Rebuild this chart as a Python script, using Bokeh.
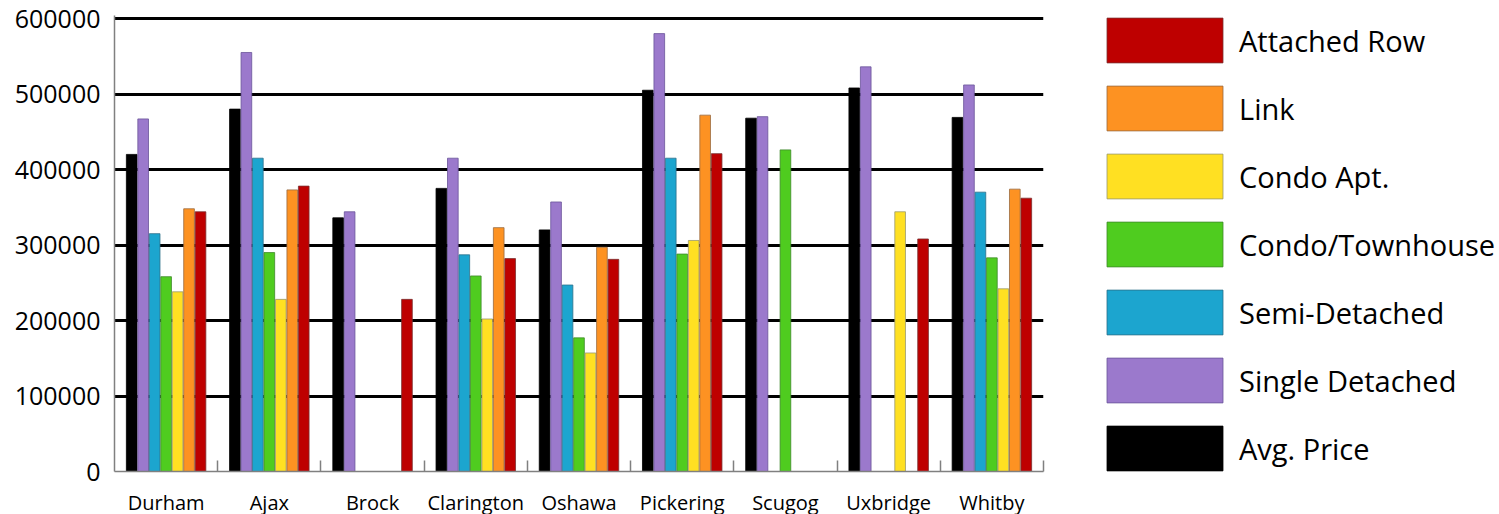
from bokeh.plotting import figure
from bokeh.models import (Legend, LegendItem, FixedTicker, ColumnDataSource,
                          Range1d, NumeralTickFormatter)
from bokeh.embed import file_html
from bokeh.resources import INLINE

regions = ["Durham", "Ajax", "Brock", "Clarington", "Oshawa",
           "Pickering", "Scugog", "Uxbridge", "Whitby"]

avg_price       = [420000, 480000, 336000, 375000, 320000, 505000, 468000, 508000, 469000]
single_detached = [467000, 555000, 344000, 415000, 357000, 580000, 470000, 536000, 512000]
semi_detached   = [315000, 415000, None,   287000, 247000, 415000, None,   None,   370000]
condo_townhouse = [258000, 290000, None,   259000, 177000, 288000, 426000, None,   283000]
condo_apt       = [238000, 228000, None,   202000, 157000, 306000, None,   344000, 242000]
link            = [348000, 373000, None,   323000, 297000, 472000, None,   None,   374000]
attached_row    = [344000, 378000, 228000, 282000, 281000, 421000, None,   308000, 362000]

series_names = ["Avg. Price", "Single Detached", "Semi-Detached", "Condo/Townhouse",
                "Condo Apt.", "Link", "Attached Row"]
series_values = [avg_price, single_detached, semi_detached, condo_townhouse,
                 condo_apt, link, attached_row]
series_colors = ["#000000", "#9b79cc", "#1ca5cf", "#4fcc1f", "#ffe022", "#fd9222", "#be0000"]
series_lines = ["#000000", "#6a559a", "#2c6f8a", "#3f8a2a", "#9a9a70", "#9a6a40", "#7a3030"]

y_ticks = [0, 100000, 200000, 300000, 400000, 500000, 600000]

n = len(regions)
slots = 9

p = figure(frame_width=929, frame_height=456,
           x_range=Range1d(0, n), y_range=Range1d(0, 604000),
           output_backend="svg", toolbar_location=None,
           min_border_left=114, min_border_top=15, min_border_bottom=43,
           min_border_right=456)
p.outline_line_color = None
p.background_fill_color = "white"
p.border_fill_color = "white"

renderers = {}
for j, (name, vals, col, lc) in enumerate(zip(series_names, series_values,
                                                series_colors, series_lines)):
    xs, tops = [], []
    for i, v in enumerate(vals):
        if v is not None:
            xs.append(i + (j + 1.5) / slots)
            tops.append(v)
    src = ColumnDataSource(dict(x=xs, top=tops))
    r = p.vbar(x="x", top="top", bottom=0, width=0.93 / slots, source=src,
               fill_color=col, line_color=lc, line_width=1, line_alpha=0.8)
    renderers[name] = r

# grid
p.xgrid.visible = False
p.ygrid.ticker = FixedTicker(ticks=y_ticks)
p.ygrid.grid_line_color = "black"
p.ygrid.grid_line_width = 3

# y axis
p.yaxis.ticker = FixedTicker(ticks=y_ticks)
p.yaxis.formatter = NumeralTickFormatter(format="0")
p.yaxis.major_tick_line_color = None
p.yaxis.minor_tick_line_color = None
p.yaxis.major_tick_out = 0
p.yaxis.major_label_standoff = 14
p.yaxis.axis_line_color = "#808080"
p.yaxis.axis_line_width = 1.5
p.yaxis.major_label_text_font = "Open Sans"
p.yaxis.major_label_text_font_size = "25px"
p.yaxis.major_label_text_color = "black"

# x axis
centers = [i + 0.5 for i in range(n)]
p.xaxis.ticker = FixedTicker(ticks=centers, minor_ticks=list(range(1, n + 1)))
p.xaxis.major_label_overrides = {c: name for c, name in zip(centers, regions)}
p.xaxis.major_tick_line_color = None
p.xaxis.major_tick_out = 0
p.xaxis.major_tick_in = 0
p.xaxis.minor_tick_line_color = "#808080"
p.xaxis.minor_tick_line_width = 1.5
p.xaxis.minor_tick_in = 11
p.xaxis.minor_tick_out = 0
p.xaxis.axis_line_color = "#808080"
p.xaxis.axis_line_width = 1.5
p.xaxis.major_label_standoff = 17
p.xaxis.major_label_text_font = "Open Sans"
p.xaxis.major_label_text_font_size = "20px"
p.xaxis.major_label_text_color = "black"

# legend (reverse order)
items = [LegendItem(label=name, renderers=[renderers[name]])
         for name in reversed(series_names)]
legend = Legend(items=items, location=(49, -5))
legend.margin = 0
legend.padding = 0
legend.spacing = 12
legend.glyph_width = 145
legend.glyph_height = 56
legend.label_height = 56
legend.label_standoff = 2
legend.label_text_font = "Open Sans"
legend.label_text_font_size = "29px"
legend.label_text_color = "black"
legend.border_line_color = None
legend.background_fill_alpha = 0
p.add_layout(legend, "right")

open("out.html", "w").write(file_html(p, INLINE))
